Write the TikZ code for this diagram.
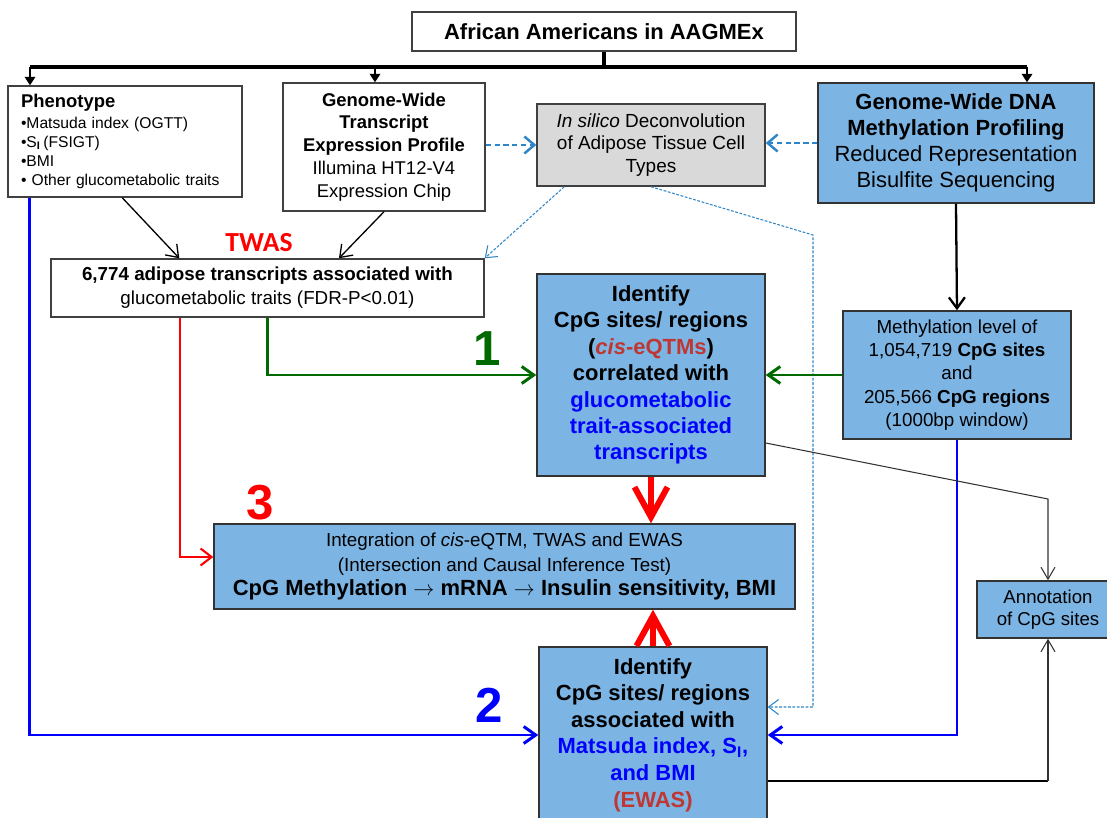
\documentclass[tikz,border=0pt]{standalone}
\usepackage{fontspec}
\setmainfont{Liberation Sans}
\newfontfamily\calibri{Carlito}
\usetikzlibrary{arrows.meta,positioning,calc}

\definecolor{boxblue}{RGB}{124,180,228}
\definecolor{boxgray}{RGB}{217,217,217}
\definecolor{linkblue}{RGB}{46,134,200}
\definecolor{darkgreen}{RGB}{0,105,0}
\definecolor{brick}{RGB}{190,55,50}

\begin{document}
\begin{tikzpicture}[x=0.02cm, y=-0.02cm,
    blk/.style={draw=black!80, fill=boxblue, align=center, inner sep=2pt, line width=0.85pt},
    wbox/.style={draw=black!75, fill=white, align=center, inner sep=2pt, line width=0.85pt},
    num/.style={font=\fontsize{28}{28}\selectfont\bfseries, inner sep=0pt},
    busarr/.style={line width=1.4pt, -{Triangle[length=1.7mm,width=2.1mm]}},
    arr/.style={line width=0.75pt, -{Straight Barb[length=2.2mm,width=3.2mm]}},
    thinarr/.style={line width=0.6pt, black!80, -{Straight Barb[length=2.4mm,width=2.8mm]}},
    dsh/.style={linkblue, line width=1.4pt, dash pattern=on 3pt off 2pt, -{Straight Barb[length=2mm,width=3.4mm]}},
    dot/.style={linkblue, line width=0.6pt, dash pattern=on 1.6pt off 0.9pt, -{Straight Barb[length=2mm,width=3mm]}},
    grn/.style={darkgreen, line width=1.7pt, -{Straight Barb[length=2.4mm,width=3.4mm]}},
    blu/.style={blue, line width=1.7pt, -{Straight Barb[length=2.4mm,width=3.4mm]}},
    redarr/.style={red, line width=1.2pt, -{Straight Barb[length=2.2mm,width=3.4mm]}},
    bigred/.style={red, line width=3.4pt, -{Straight Barb[length=6mm,width=6.6mm]}},
  ]
  \clip (0,0) rectangle (1107,818);

  % --- top: cohort and the three data sources ---
  \node[wbox, font=\fontsize{12.5}{14.7}\selectfont\bfseries, minimum width=7.68cm, minimum height=0.78cm] (title) at (604,31.5) {African Americans in AAGMEx};
  \node[wbox, align=left, text width=4.16cm, inner xsep=0.26cm, minimum height=2.22cm, font=\fontsize{8.9}{10.8}\selectfont] (pheno) at (125,141.5)
    {{\fontsize{10.5}{12.5}\selectfont\bfseries Phenotype}\\[1.5pt]
     •Matsuda index (OGTT)\\
     •S\textsubscript{\textbf{I}}\,(FSIGT)\\
     •BMI\\
     • Other glucometabolic traits};
  \node[wbox, font=\fontsize{10.5}{13}\selectfont, minimum width=4.04cm, minimum height=2.56cm] (trans) at (384,147)
    {\textbf{Genome-Wide}\\\textbf{Transcript}\\\textbf{Expression Profile}\\Illumina HT12-V4\\Expression Chip};
  \node[wbox, fill=boxgray, font=\fontsize{10.8}{13}\selectfont, minimum width=4.56cm, minimum height=1.64cm] (decon) at (651,145)
    {\textit{In silico} Deconvolution\\of Adipose Tissue Cell\\Types};
  \node[blk, font=\fontsize{12.5}{14.7}\selectfont, minimum width=5.52cm, minimum height=2.4cm] (dna) at (956,143)
    {\textbf{Genome-Wide DNA}\\\textbf{Methylation Profiling}\\Reduced Representation\\Bisulfite Sequencing};

  % --- middle: TWAS, cis-eQTM and methylation level ---
  \node[wbox, font=\fontsize{10.7}{13.6}\selectfont, minimum width=8.66cm, minimum height=1.16cm] (twas) at (267.5,288)
    {\textbf{6,774 adipose transcripts associated with}\\glucometabolic traits (FDR-P<0.01)};
  \node[blk, font=\fontsize{12.5}{15}\selectfont\bfseries, minimum width=4.56cm, minimum height=4.04cm] (cis) at (651,375)
    {Identify\\CpG sites/ regions\\(\textcolor{brick}{\textit{cis}-eQTMs})\\correlated with\\
     \textcolor{blue}{glucometabolic}\\\textcolor{blue}{trait-associated}\\\textcolor{blue}{transcripts}};
  \node[blk, font=\fontsize{10.7}{13.3}\selectfont, minimum width=4.56cm, minimum height=2.56cm] (meth) at (957,375)
    {Methylation level of\\1,054,719 \textbf{CpG sites}\\and\\205,566 \textbf{CpG regions}\\(1000bp window)};

  % --- bottom: integration, EWAS, annotation ---
  \node[blk, font=\fontsize{10.7}{13.9}\selectfont, minimum width=11.62cm, minimum height=1.7cm] (integ) at (504.5,566.5)
    {Integration of \textit{cis}-eQTM, TWAS and EWAS\\(Intersection and Causal Inference Test)\\
     {\fontsize{12.5}{13.9}\selectfont\bfseries CpG Methylation $\rightarrow$ mRNA $\rightarrow$ Insulin sensitivity, BMI}};
  \node[blk, font=\fontsize{10.6}{12.5}\selectfont, minimum width=2.84cm, minimum height=1.14cm] (annot) at (1048,609.5)
    {Annotation\\of CpG sites};
  \node[blk, font=\fontsize{12.5}{15.1}\selectfont\bfseries, minimum width=4.56cm, minimum height=3.52cm] (ewas) at (653,735)
    {Identify\\CpG sites/ regions\\associated with\\\textcolor{blue}{Matsuda index, S\textsubscript{I},}\\
     \textcolor{blue}{and BMI}\\\textcolor{brick}{(EWAS)}};

  % labels
  \node[font=\calibri\fontsize{15.7}{16}\selectfont\bfseries, text=red] (twaslbl) at (259,243) {TWAS};
  \node[num, text=darkgreen] (one) at (487,349) {1};
  \node[num, text=blue] (two) at (489,705) {2};
  \node[num, text=red] (three) at (260,503) {3};

  % --- connectors ---
  \coordinate (busC) at (604,67);
  \coordinate (busL) at (30,67);
  \coordinate (busM) at (375,67);
  \coordinate (busR) at (1027,67);
  \draw[line width=2.8pt] (title.south) -- (busC);
  \draw[line width=2pt] (busL) -- (busR);
  \draw[busarr] (busL) -- (busL |- pheno.north);
  \draw[busarr] (busM) -- (busM |- trans.north);
  \draw[busarr] (busR) -- (busR |- dna.north);

  \draw[dsh] (trans.east |- decon.west) -- (decon.west);
  \draw[dsh] (dna.west) -- (dna.west -| decon.east);

  \draw[arr] ([xshift=2.3cm]pheno.south west) -- ([xshift=2.58cm]twas.north west);
  \draw[arr] (trans.south) -- ([xshift=1.43cm]twas.north);
  \draw[line width=1.3pt, -{Straight Barb[length=2.2mm,width=3.2mm]}] (dna.south) -- (meth.north);

  \draw[dot] ([xshift=0.56cm]decon.south west) -- (twas.north east);
  \coordinate (dotc) at (813,235);
  \draw[dot] (decon.south) -- (dotc) |- ([yshift=5.6mm]ewas.east);

  \draw[grn] (twas.south) |- (cis.west);
  \draw[grn] (meth.west) -- (cis.east);

  \draw[redarr] ([xshift=2.6cm]twas.south west) |- ([yshift=1.9mm]integ.west);
  \draw[bigred] (cis.south) -- (cis.south |- integ.north);
  \draw[bigred] (ewas.north) -- (ewas.north |- integ.south);

  \draw[blu] ([xshift=0.44cm]pheno.south west) |- (ewas.west);
  \draw[blu] (meth.south) |- (ewas.east);

  \coordinate (annc) at (1048,499);
  \draw[thinarr] ([yshift=-13.6mm]cis.east) -- (annc) -- (annot.north);
  \coordinate (ewasout) at ([yshift=-9.2mm]ewas.east);
  \draw[line width=1.3pt] (ewasout) -- (ewasout -| annot.south);
  \draw[thinarr] (ewasout -| annot.south) -- (annot.south);
\end{tikzpicture}
\end{document}
